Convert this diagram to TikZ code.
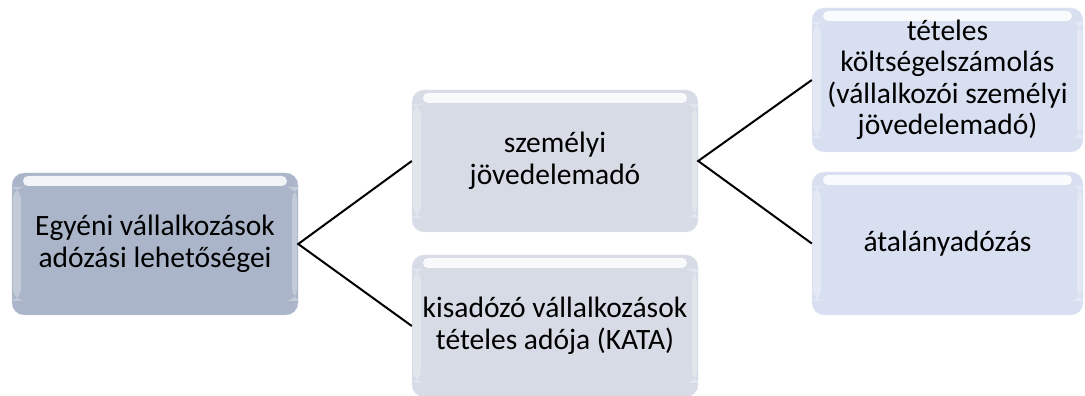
\documentclass[tikz,border=0pt]{standalone}
\usepackage{fontspec}
\setmainfont{Carlito}
\definecolor{rootfill}{RGB}{170,181,201}
\definecolor{midfill}{RGB}{214,219,229}
\definecolor{leaffill}{RGB}{216,223,240}
\tikzset{
	taxbox/.style={rectangle, rounded corners=12pt, minimum width=286pt, minimum height=142pt,
		align=center, inner sep=3pt, font=\fontsize{29.5}{31.5}\selectfont,
		path picture={
			\fill[white, opacity=0.85, rounded corners=5pt] ([xshift=11pt,yshift=-3pt]path picture bounding box.north west) rectangle ([xshift=-11pt,yshift=-13pt]path picture bounding box.north east);
			\fill[white, opacity=0.3] ([xshift=1pt,yshift=-14pt]path picture bounding box.north west) rectangle ([xshift=9pt,yshift=14pt]path picture bounding box.south west);
			\fill[white, opacity=0.3] ([xshift=-1pt,yshift=-14pt]path picture bounding box.north east) rectangle ([xshift=-6pt,yshift=14pt]path picture bounding box.south east);
		}},
	link/.style={line width=2pt, black},
}
\begin{document}
\begin{tikzpicture}[x=1pt, y=1pt]
	\useasboundingbox (0,0) rectangle (1085,396);
	\node[taxbox, fill=rootfill, draw=rootfill!60!white] (root) at (155, 152) {Egyéni vállalkozások\\adózási lehetőségei};
	\node[taxbox, fill=midfill, draw=midfill!60!white] (szja) at (555, 235) {személyi\\jövedelemadó};
	\node[taxbox, fill=midfill, draw=midfill!60!white] (kata) at (555, 70) {kisadózó vállalkozások\\tételes adója (KATA)};
	\node[taxbox, fill=leaffill, draw=leaffill!60!white, minimum width=271pt, minimum height=144pt] (teteles) at (947.5, 316) {tételes\\költségelszámolás\\(vállalkozói személyi\\jövedelemadó)};
	\node[taxbox, fill=leaffill, draw=leaffill!60!white, minimum width=271pt, minimum height=143pt] (atalany) at (947.5, 152.5) {átalányadózás};

	\draw[link] (szja.west) -- (root.east) -- (kata.west);
	\draw[link] (teteles.west) -- (szja.east) -- (atalany.west);
\end{tikzpicture}
\end{document}
